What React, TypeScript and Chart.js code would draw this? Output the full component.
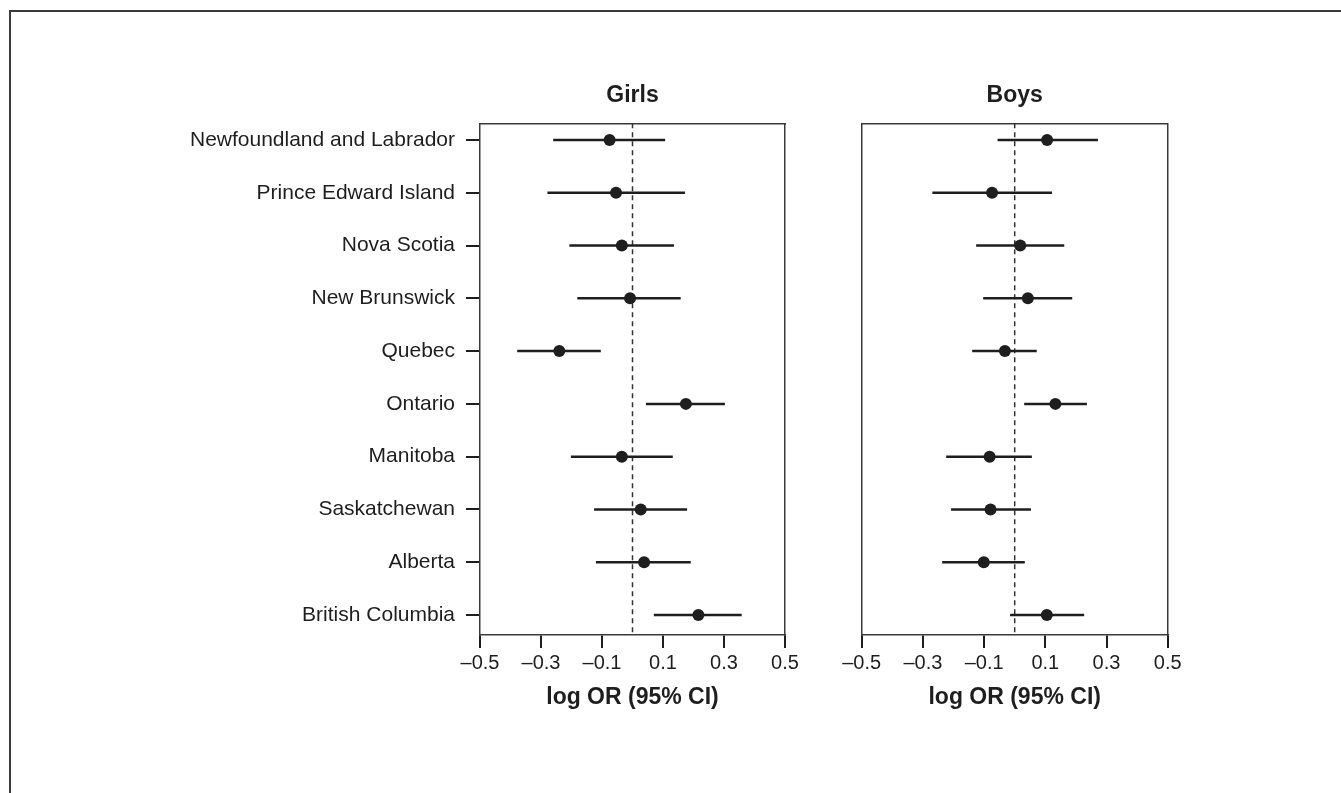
import React, { useEffect, useRef } from "react";
import { Chart, registerables } from "chart.js";

Chart.register(...registerables);

const provinces = [
  "Newfoundland and Labrador",
  "Prince Edward Island",
  "Nova Scotia",
  "New Brunswick",
  "Quebec",
  "Ontario",
  "Manitoba",
  "Saskatchewan",
  "Alberta",
  "British Columbia",
];
const girlsEstimate = [-0.075, -0.054, -0.035, -0.008, -0.24, 0.175, -0.035, 0.027, 0.038, 0.216];
const girlsLower = [-0.26, -0.279, -0.207, -0.181, -0.378, 0.044, -0.202, -0.126, -0.12, 0.07];
const girlsUpper = [0.107, 0.172, 0.136, 0.158, -0.104, 0.303, 0.132, 0.179, 0.191, 0.358];
const boysEstimate = [0.106, -0.074, 0.018, 0.043, -0.032, 0.133, -0.082, -0.079, -0.101, 0.105];
const boysLower = [-0.056, -0.269, -0.126, -0.103, -0.139, 0.031, -0.224, -0.208, -0.237, -0.015];
const boysUpper = [0.272, 0.122, 0.162, 0.188, 0.072, 0.236, 0.056, 0.053, 0.033, 0.227];
const xTickValues = [-0.5, -0.3, -0.1, 0.1, 0.3, 0.5];
const xMin = -0.5;
const xMax = 0.5;
const referenceValue = 0;
const axisTitle = "log OR (95% CI)";

const W = 1341;
const H = 793;
const FONT = "'Liberation Sans', Arial, Helvetica, sans-serif";
const INK = "#1e1e1e";
const FRAME = "#3a3a3a";

const refLinePlugin = {
  id: "refLine",
  beforeDatasetsDraw(chart: any) {
    const { ctx, chartArea, scales } = chart;
    const x = scales.x.getPixelForValue(referenceValue);
    ctx.save();
    ctx.strokeStyle = "#333";
    ctx.lineWidth = 1.5;
    ctx.setLineDash([5, 4]);
    ctx.beginPath();
    ctx.moveTo(x, chartArea.top);
    ctx.lineTo(x, chartArea.bottom);
    ctx.stroke();
    ctx.restore();
  },
};

type PanelProps = {
  title: string;
  est: number[];
  lo: number[];
  hi: number[];
  showLabels: boolean;
  left: number;
  right: number;
};

function Panel({ title, est, lo, hi, showLabels, left, right }: PanelProps) {
  const ref = useRef<HTMLCanvasElement | null>(null);
  useEffect(() => {
    if (!ref.current) return;
    const top = 123.3;
    const bottom = 635;
    const yMin = 0.684;
    const yMax = 10.379;
    const barSets = provinces.map((p, i) => ({
      type: "line" as const,
      label: p,
      data: [
        { x: lo[i], y: i + 1 },
        { x: hi[i], y: i + 1 },
      ],
      borderColor: INK,
      borderWidth: 2.5,
      pointRadius: 0,
      fill: false,
      order: 1,
    }));
    const pointSet = {
      type: "scatter" as const,
      label: title,
      data: est.map((v, i) => ({ x: v, y: i + 1 })),
      backgroundColor: INK,
      borderWidth: 0,
      pointRadius: 6,
      order: 0,
    };
    const chart = new Chart(ref.current, {
      type: "scatter",
      data: { datasets: [...barSets, pointSet] as any },
      plugins: [refLinePlugin],
      options: {
        animation: false,
        responsive: false,
        devicePixelRatio: 1,
        layout: { padding: { left: 0, right: W - right, top: 0, bottom: 0 } },
        plugins: { legend: { display: false }, tooltip: { enabled: false } },
        scales: {
          x: {
            type: "linear",
            position: "bottom",
            min: xMin,
            max: xMax,
            afterBuildTicks: (s: any) => {
              s.ticks = xTickValues.map((v) => ({ value: v }));
            },
            afterFit: (s: any) => {
              s.height = H - bottom;
            },
            ticks: {
              color: INK,
              font: { family: FONT, size: 20 },
              padding: 3,
              maxRotation: 0,
              autoSkip: false,
              callback: (v: any) => {
                const n = Number(v);
                return n < 0 ? "\u2013" + Math.abs(n).toFixed(1) : n.toFixed(1);
              },
            },
            grid: {
              display: true,
              drawOnChartArea: false,
              drawTicks: true,
              tickLength: 13,
              color: INK,
              lineWidth: 2,
            },
            border: { display: true, color: FRAME, width: 1.5 },
            title: {
              display: true,
              text: axisTitle,
              color: INK,
              font: { family: FONT, size: 23, weight: "bold" },
              padding: { top: 0, bottom: 82 },
            },
          },
          x2: {
            type: "linear",
            position: "top",
            min: xMin,
            max: xMax,
            afterFit: (s: any) => {
              s.height = top;
            },
            ticks: { display: false },
            grid: { display: false },
            border: { display: true, color: FRAME, width: 1.5 },
            title: {
              display: true,
              text: title,
              color: INK,
              font: { family: FONT, size: 23, weight: "bold" },
              padding: { top: 82, bottom: 0 },
            },
          },
          y: {
            type: "linear",
            position: "left",
            reverse: true,
            min: yMin,
            max: yMax,
            afterBuildTicks: (s: any) => {
              s.ticks = provinces.map((_, i) => ({ value: i + 1 }));
            },
            afterFit: (s: any) => {
              s.width = left;
            },
            ticks: {
              display: showLabels,
              color: INK,
              font: { family: FONT, size: 21 },
              padding: 11,
              autoSkip: false,
              callback: (v: any) => provinces[Number(v) - 1] ?? "",
            },
            grid: {
              display: showLabels,
              drawOnChartArea: false,
              drawTicks: true,
              tickLength: 14,
              color: INK,
              lineWidth: 2,
            },
            border: { display: true, color: FRAME, width: 1.5 },
          },
          y2: {
            type: "linear",
            position: "right",
            min: yMin,
            max: yMax,
            afterFit: (s: any) => {
              s.width = 0;
            },
            ticks: { display: false },
            grid: { display: false },
            border: { display: true, color: FRAME, width: 1.5 },
          },
        },
      } as any,
    });
    return () => chart.destroy();
  }, []);
  return (
    <canvas
      ref={ref}
      width={W}
      height={H}
      style={{ position: "absolute", left: 0, top: 0, width: W, height: H }}
    />
  );
}

export default function App() {
  return (
    <div
      style={{
        position: "fixed",
        left: 0,
        top: 0,
        width: W,
        height: H,
        background: "#ffffff",
        overflow: "hidden",
      }}
    >
      <div
        style={{
          position: "absolute",
          left: 9,
          top: 10,
          width: W,
          height: H,
          borderTop: `2px solid ${FRAME}`,
          borderLeft: `2px solid ${FRAME}`,
        }}
      />
      <Panel
        title="Girls"
        est={girlsEstimate}
        lo={girlsLower}
        hi={girlsUpper}
        showLabels={true}
        left={480}
        right={785}
      />
      <Panel
        title="Boys"
        est={boysEstimate}
        lo={boysLower}
        hi={boysUpper}
        showLabels={false}
        left={861.7}
        right={1167.7}
      />
    </div>
  );
}
